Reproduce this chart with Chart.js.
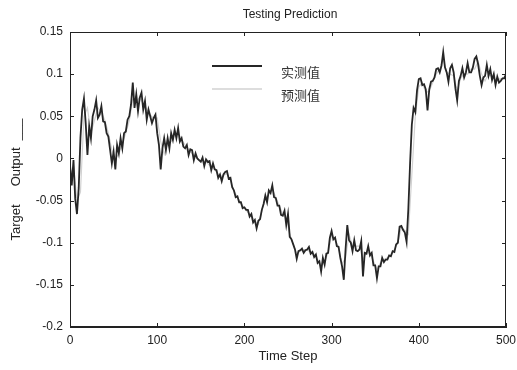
<!DOCTYPE html>
<html>
<head>
<meta charset="utf-8">
<script src="https://cdn.jsdelivr.net/npm/chart.js@4.4.1/dist/chart.umd.min.js"></script>
<style>
  html, body { margin: 0; padding: 0; background: #fff; }
  #wrap { width: 517px; height: 370px; }
</style>
</head>
<body>
<div id="wrap"><canvas id="chart" width="517" height="370"></canvas></div>
<script>
// Dados (passo de tempo 0..500)
const titleText = "Testing Prediction";
const xTitle = "Time Step";
const yTitle = "Target     Output  ___";
const seriesNames = ["实测值", "预测值"];
const xTicks = [0, 100, 200, 300, 400, 500];
const yTicks = [-0.2, -0.15, -0.1, -0.05, 0, 0.05, 0.1, 0.15];

// valor real, um ponto a cada 2 passos
const actualStep = 2;
const actual = [
  -0.008, -0.032, -0.002, -0.048, -0.066, -0.035, 0.025, 0.058, 0.071, 0.042,
  0.004, 0.038, 0.024, 0.05, 0.058, 0.069, 0.048, 0.052, 0.062, 0.044,
  0.043, 0.03, 0.026, 0.01, -0.006, 0.008, -0.013, 0.016, 0.006, 0.024,
  0.012, 0.03, 0.032, 0.046, 0.05, 0.064, 0.09, 0.06, 0.076, 0.056,
  0.072, 0.078, 0.058, 0.068, 0.046, 0.058, 0.05, 0.042, 0.048, 0.052,
  0.03, 0.016, -0.013, 0.012, 0.024, 0.01, 0.024, 0.012, 0.03, 0.022,
  0.034, 0.024, 0.036, 0.02, 0.024, 0.014, 0.012, 0.016, 0.004, 0.011,
  0.01, -0.002, 0.006, 0.0, -0.002, -0.004, 0.001, -0.009, -0.001, -0.004,
  -0.003, -0.014, -0.006, -0.013, -0.014, -0.023, -0.019, -0.027, -0.019, -0.016,
  -0.015, -0.024, -0.023, -0.034, -0.038, -0.046, -0.045, -0.052, -0.052, -0.059,
  -0.058, -0.061, -0.061, -0.069, -0.066, -0.076, -0.073, -0.083, -0.074, -0.072,
  -0.061, -0.054, -0.044, -0.052, -0.038, -0.041, -0.032, -0.046, -0.047, -0.056,
  -0.056, -0.067, -0.068, -0.062, -0.079, -0.066, -0.093, -0.096, -0.102, -0.108,
  -0.119, -0.11, -0.109, -0.107, -0.112, -0.109, -0.108, -0.105, -0.113, -0.111,
  -0.117, -0.114, -0.124, -0.122, -0.134, -0.118, -0.126, -0.113, -0.112, -0.094,
  -0.086, -0.096, -0.094, -0.104, -0.105, -0.118, -0.128, -0.144, -0.108, -0.079,
  -0.097, -0.1, -0.11, -0.097, -0.109, -0.11, -0.108, -0.098, -0.14, -0.112,
  -0.113, -0.104, -0.115, -0.112, -0.127, -0.127, -0.142, -0.128, -0.128, -0.118,
  -0.123, -0.12, -0.12, -0.115, -0.116, -0.11, -0.111, -0.102, -0.1, -0.081,
  -0.08, -0.085, -0.088, -0.099, -0.06, -0.006, 0.04, 0.06, 0.055, 0.081,
  0.094, 0.095, 0.087, 0.088, 0.082, 0.057, 0.082, 0.091, 0.092, 0.096,
  0.106, 0.107, 0.102, 0.11, 0.126, 0.108, 0.102, 0.091, 0.107, 0.111,
  0.102, 0.083, 0.069, 0.092, 0.098, 0.107, 0.096, 0.102, 0.113, 0.102,
  0.102, 0.108, 0.118, 0.121, 0.112, 0.098, 0.087, 0.096, 0.098, 0.111,
  0.098, 0.106, 0.093, 0.1, 0.087, 0.097, 0.09, 0.092, 0.095, 0.095,
  0.1
];

// valor previsto, um ponto a cada 4 passos
const predictedStep = 4;
const predicted = [
  -0.02, -0.01, -0.05, -0.04, 0.05, 0.06, 0.03, 0.045, 0.06, 0.055,
  0.045, 0.03, 0.01, 0.0, 0.005, 0.018, 0.03, 0.045, 0.07, 0.068,
  0.072, 0.065, 0.058, 0.052, 0.047, 0.048, 0.02, 0.005, 0.018, 0.02,
  0.028, 0.03, 0.022, 0.016, 0.01, 0.006, 0.002, -0.002, -0.003, -0.004,
  -0.008, -0.011, -0.016, -0.022, -0.02, -0.018, -0.026, -0.038, -0.046, -0.053,
  -0.059, -0.064, -0.068, -0.075, -0.078, -0.062, -0.048, -0.042, -0.036, -0.046,
  -0.056, -0.066, -0.07, -0.09, -0.102, -0.113, -0.11, -0.108, -0.109, -0.111,
  -0.114, -0.12, -0.128, -0.122, -0.112, -0.09, -0.096, -0.105, -0.125, -0.118,
  -0.09, -0.104, -0.104, -0.104, -0.12, -0.112, -0.112, -0.122, -0.132, -0.124,
  -0.12, -0.118, -0.114, -0.108, -0.1, -0.082, -0.085, -0.09, -0.02, 0.05,
  0.085, 0.09, 0.078, 0.08, 0.09, 0.1, 0.106, 0.118, 0.102, 0.1,
  0.098, 0.08, 0.095, 0.1, 0.1, 0.106, 0.106, 0.115, 0.1, 0.092,
  0.1, 0.097, 0.093, 0.094, 0.095,
  0.098
];

const actualColor = "#262626";
const predictedColor = "#d2d2d2";
const fontSans = "'Liberation Sans', Arial, sans-serif";

// Plugin para moldura, marcas internas, título e legenda (estilo MATLAB)
const framePlugin = {
  id: "frame",
  afterDraw(chart) {
    const { ctx, chartArea: a, scales } = chart;
    ctx.save();
    ctx.strokeStyle = "#222";
    ctx.lineWidth = 1;
    ctx.strokeRect(a.left + 0.5, a.top + 0.5, a.right - a.left - 1, a.bottom - a.top - 1);

    const tl = 4;
    ctx.beginPath();
    xTicks.forEach(v => {
      const x = Math.round(scales.x.getPixelForValue(v)) + 0.5;
      ctx.moveTo(x, a.bottom); ctx.lineTo(x, a.bottom - tl);
      ctx.moveTo(x, a.top); ctx.lineTo(x, a.top + tl);
    });
    yTicks.forEach(v => {
      const y = Math.round(scales.y.getPixelForValue(v)) + 0.5;
      ctx.moveTo(a.left, y); ctx.lineTo(a.left + tl, y);
      ctx.moveTo(a.right, y); ctx.lineTo(a.right - tl, y);
    });
    ctx.stroke();

    // título
    ctx.fillStyle = "#222";
    ctx.font = "12px " + fontSans;
    ctx.textAlign = "center";
    ctx.textBaseline = "middle";
    ctx.fillText(titleText, (a.left + a.right) / 2 + 2, 15);

    // legenda
    const lx1 = 212, lx2 = 262;
    const rows = [
      { y: 66, color: actualColor, w: 1.8, text: seriesNames[0] },
      { y: 89, color: predictedColor, w: 1.5, text: seriesNames[1] }
    ];
    rows.forEach(r => {
      ctx.strokeStyle = r.color;
      ctx.lineWidth = r.w;
      ctx.beginPath();
      ctx.moveTo(lx1, r.y); ctx.lineTo(lx2, r.y);
      ctx.stroke();
      ctx.fillStyle = "#333";
      ctx.font = "13px 'Noto Sans CJK SC', sans-serif";
      ctx.textAlign = "left";
      ctx.fillText(r.text, 281, r.y + 6);
    });
    ctx.restore();
  }
};

new Chart(document.getElementById("chart"), {
  type: "line",
  data: {
    datasets: [
      {
        label: seriesNames[0],
        data: actual.map((v, i) => ({ x: i * actualStep, y: v })),
        borderColor: actualColor,
        borderWidth: 1.8,
        pointRadius: 0,
        tension: 0
      },
      {
        label: seriesNames[1],
        data: predicted.map((v, i) => ({ x: i * predictedStep, y: v })),
        borderColor: predictedColor,
        borderWidth: 1.2,
        pointRadius: 0,
        tension: 0
      }
    ]
  },
  options: {
    responsive: false,
    animation: false,
    layout: { padding: { top: 32, right: 11, left: 0, bottom: 0 } },
    plugins: {
      legend: { display: false },
      title: { display: false },
      tooltip: { enabled: false }
    },
    scales: {
      x: {
        type: "linear",
        min: 0,
        max: 500,
        afterBuildTicks: s => { s.ticks = xTicks.map(v => ({ value: v })); },
        afterFit: s => { s.height = 43; s.paddingRight = 0; s.paddingLeft = 0; },
        grid: { display: false, drawTicks: false, tickLength: 0 },
        border: { display: true, color: "#222" },
        ticks: {
          padding: 6,
          color: "#222",
          font: { family: fontSans, size: 12 },
          callback: v => String(v)
        },
        title: {
          display: true,
          text: xTitle,
          color: "#222",
          padding: { top: 0, bottom: 6 },
          font: { family: fontSans, size: 13 }
        }
      },
      y: {
        type: "linear",
        min: -0.2,
        max: 0.15,
        afterBuildTicks: s => { s.ticks = yTicks.map(v => ({ value: v })); },
        afterFit: s => { s.width = 70; },
        grid: { display: false, drawTicks: false, tickLength: 0 },
        border: { display: true, color: "#222" },
        ticks: {
          padding: 7,
          color: "#222",
          font: { family: fontSans, size: 12 },
          callback: v => String(parseFloat(v.toFixed(2)))
        },
        title: {
          display: true,
          text: yTitle,
          color: "#222",
          padding: { top: 9, bottom: 0 },
          font: { family: fontSans, size: 13 }
        }
      }
    }
  },
  plugins: [framePlugin]
});
</script>
</body>
</html>
